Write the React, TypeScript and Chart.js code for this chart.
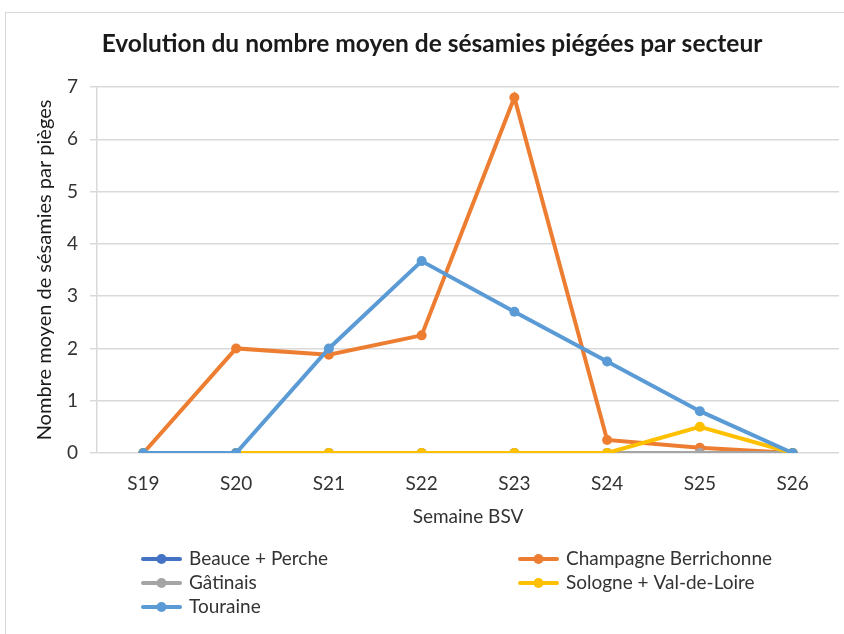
import React, { useEffect, useRef } from "react";
import { Chart, registerables } from "chart.js";

Chart.register(...registerables);

const weeks = ["S19", "S20", "S21", "S22", "S23", "S24", "S25", "S26"];
const yTicks = [0, 1, 2, 3, 4, 5, 6, 7];

const beauce = [0, 0, 0, 0, 0, 0, 0, 0];
const champagne = [0, 2, 1.88, 2.25, 6.8, 0.25, 0.1, 0];
const gatinais = [0, 0, 0, 0, 0, 0, 0, 0];
const sologne = [0, 0, 0, 0, 0, 0, 0.5, 0];
const touraine = [0, 0, 2, 3.67, 2.7, 1.75, 0.8, 0];

const seriesNames = ["Beauce + Perche", "Champagne Berrichonne", "Gâtinais", "Sologne + Val-de-Loire", "Touraine"];
const seriesColors = ["#4472C4", "#ED7D31", "#A5A5A5", "#FFC000", "#5B9BD5"];
const seriesValues = [beauce, champagne, gatinais, sologne, touraine];

const titleText = "Evolution du nombre moyen de sésamies piégées par secteur";
const xTitle = "Semaine BSV";
const yTitle = "Nombre moyen de sésamies par pièges";

const FONT = "Lato";
const TEXT = "#333333";

const overlayPlugin = {
  id: "overlay",
  afterDraw(chart: any) {
    const ctx = chart.ctx;
    ctx.save();
    ctx.fillStyle = "#1a1a1a";
    ctx.font = `bold 24.5px ${FONT}`;
    ctx.textAlign = "center";
    ctx.textBaseline = "middle";
    ctx.fillText(titleText, 432, 44);

    // legend (two columns)
    const colX = [143, 520];
    const rowY = [559, 583, 607];
    ctx.font = `19px ${FONT}`;
    ctx.textAlign = "left";
    chart.data.datasets.forEach((ds: any, i: number) => {
      const x = colX[i % 2];
      const y = rowY[Math.floor(i / 2)];
      ctx.strokeStyle = ds.borderColor;
      ctx.lineWidth = 4;
      ctx.lineCap = "round";
      ctx.beginPath();
      ctx.moveTo(x, y);
      ctx.lineTo(x + 37, y);
      ctx.stroke();
      ctx.fillStyle = ds.borderColor;
      ctx.beginPath();
      ctx.arc(x + 18.5, y, 5, 0, Math.PI * 2);
      ctx.fill();
      ctx.fillStyle = TEXT;
      ctx.fillText(ds.label, x + 46, y);
    });
    ctx.restore();
  },
};

export default function App() {
  const ref = useRef<HTMLCanvasElement | null>(null);
  useEffect(() => {
    if (!ref.current) return;
    const chart = new Chart(ref.current, {
      type: "line",
      data: {
        labels: weeks,
        datasets: seriesNames.map((name, i) => ({
          label: name,
          data: seriesValues[i],
          borderColor: seriesColors[i],
          backgroundColor: seriesColors[i],
          borderWidth: 4,
          pointRadius: 5,
          pointHoverRadius: 5,
          pointBorderWidth: 0,
          tension: 0,
          order: seriesNames.length - i,
        })),
      },
      options: {
        animation: false,
        responsive: false,
        layout: { padding: { left: 0, top: 87, right: 3, bottom: 101 } },
        plugins: { legend: { display: false }, title: { display: false }, tooltip: { enabled: false } },
        scales: {
          x: {
            offset: true,
            grid: { display: false },
            border: { display: false },
            ticks: { color: TEXT, font: { family: FONT, size: 19 }, padding: 11 },
            title: { display: true, text: xTitle, color: TEXT, font: { family: FONT, size: 19 }, padding: { top: 0, bottom: 5 } },
            afterFit: (s: any) => { s.height = 80; },
          },
          y: {
            min: 0,
            max: 7,
            afterBuildTicks: (s: any) => { s.ticks = yTicks.map((v) => ({ value: v })); },
            grid: { color: "#d9d9d9", lineWidth: 1.5, tickLength: 7 },
            border: { display: true, color: "#d9d9d9", width: 1.5 },
            ticks: { color: TEXT, font: { family: FONT, size: 19 }, padding: 12 },
            title: { display: true, text: yTitle, color: "#1a1a1a", font: { family: FONT, size: 20 }, padding: { top: 33, bottom: 0 } },
            afterFit: (s: any) => { s.width = 97; },
          },
        },
      },
      plugins: [overlayPlugin],
    });
    return () => chart.destroy();
  }, []);
  return (
    <div style={{ position: "fixed", left: 0, top: 0, width: 844, height: 634, overflow: "hidden", background: "#fff" }}>
      <div style={{ position: "absolute", left: 5, top: 12, width: 900, height: 700, border: "1px solid #d9d9d9" }} />
      <canvas ref={ref} width={844} height={634} style={{ position: "absolute", left: 0, top: 0 }} />
    </div>
  );
}
